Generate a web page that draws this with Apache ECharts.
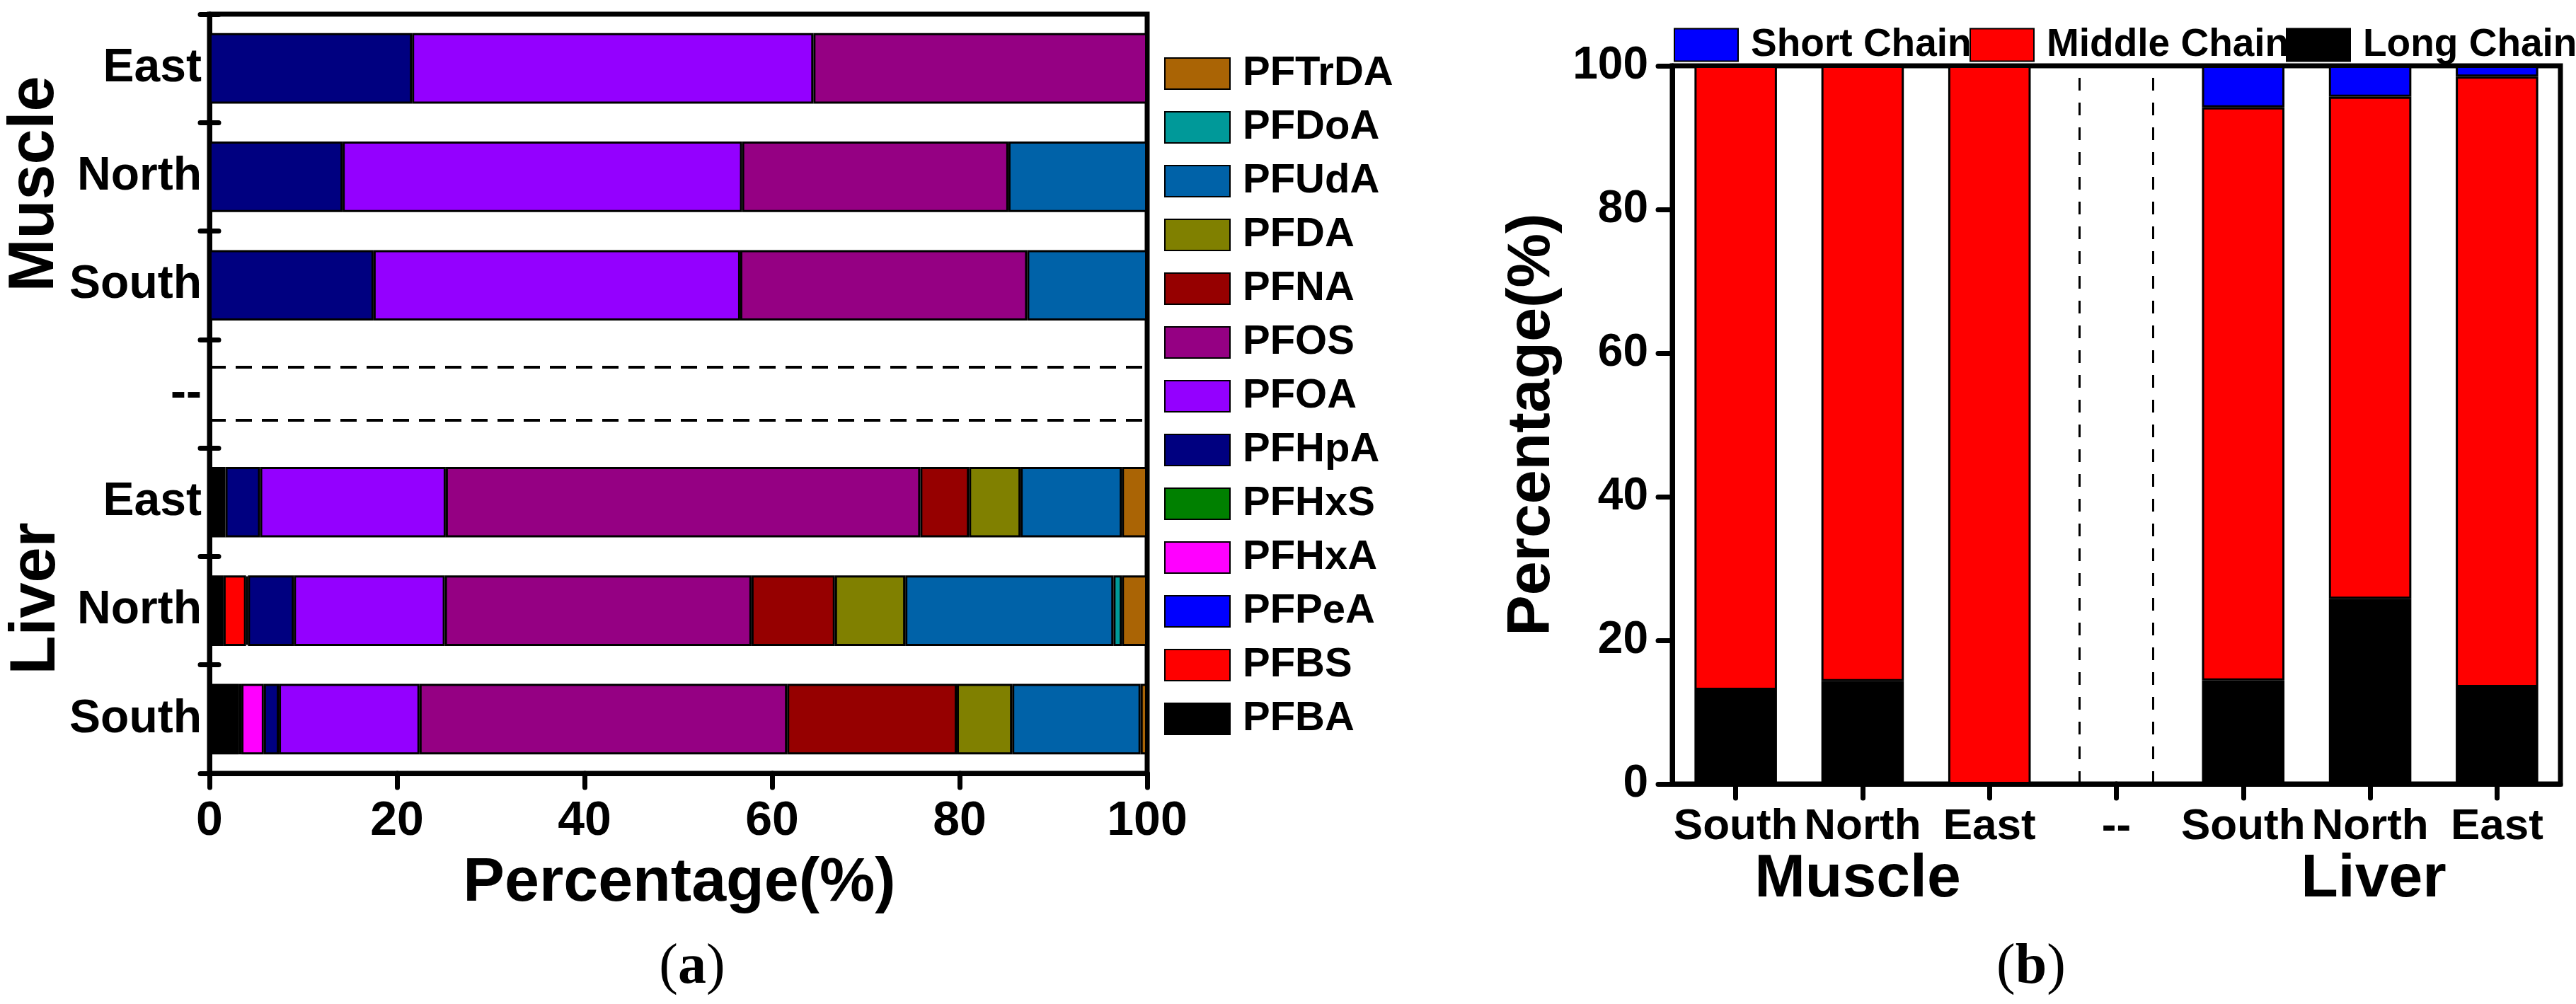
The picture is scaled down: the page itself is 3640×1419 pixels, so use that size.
<!DOCTYPE html>
<html>
<head>
<meta charset="utf-8">
<script src="https://cdn.jsdelivr.net/npm/echarts@6/dist/echarts.min.js"></script>
<style>
  html, body { margin: 0; padding: 0; background: #fff; }
  #chart { width: 3640px; height: 1419px; }
</style>
</head>
<body>
<div id="chart"></div>
<script>
// panel (a): share of each compound per site, bottom row first
const sitesA = ["Liver South", "Liver North", "Liver East", "--", "Muscle South", "Muscle North", "Muscle East"];
const PFBA   = [3.1, 1.5, 1.7, 0, 0, 0, 0];
const PFBS   = [0, 2.4, 0, 0, 0, 0, 0];
const PFPeA  = [0.3, 0, 0, 0, 0, 0, 0];
const PFHxA  = [2.4, 0.2, 0, 0, 0, 0, 0];
const PFHxS  = [0, 0, 0, 0, 0, 0, 0];
const PFHpA  = [1.6, 4.9, 3.7, 0, 17.5, 14.2, 21.6];
const PFOA   = [15.0, 16.1, 19.8, 0, 39.1, 42.6, 42.8];
const PFOS   = [39.2, 32.7, 50.6, 0, 30.6, 28.4, 35.6];
const PFNA   = [18.1, 8.9, 5.2, 0, 0, 0, 0];
const PFDA   = [5.9, 7.5, 5.5, 0, 0, 0, 0];
const PFUdA  = [13.7, 22.2, 10.8, 0, 12.8, 14.8, 0];
const PFDoA  = [0, 0.9, 0, 0, 0, 0, 0];
const PFTrDA = [0.7, 2.7, 2.7, 0, 0, 0, 0];
const gapSpan = 100;

// panel (b): chain length groups
const sitesB = ["Muscle South", "Muscle North", "Muscle East", "--", "Liver South", "Liver North", "Liver East"];
const longChain   = [13.1, 14.3, 0, 0, 14.4, 25.8, 13.5];
const middleChain = [86.9, 85.7, 100, 0, 79.8, 69.9, 85.0];
const shortChain  = [0, 0, 0, 0, 5.8, 4.3, 1.5];

const compounds = [
  ["PFBA", PFBA], ["PFBS", PFBS], ["PFPeA", PFPeA], ["PFHxA", PFHxA], ["PFHxS", PFHxS],
  ["PFHpA", PFHpA], ["PFOA", PFOA], ["PFOS", PFOS], ["PFNA", PFNA], ["PFDA", PFDA],
  ["PFUdA", PFUdA], ["PFDoA", PFDoA], ["PFTrDA", PFTrDA]
];
const colorsA = {
  PFBA: "#000000", PFBS: "#ff0000", PFPeA: "#0000ff", PFHxA: "#ff00ff", PFHxS: "#008000",
  PFHpA: "#000080", PFOA: "#9400ff", PFOS: "#950083", PFNA: "#960000", PFDA: "#808000",
  PFUdA: "#0062a8", PFDoA: "#009999", PFTrDA: "#aa6405"
};
const chains = [["Long Chain", longChain], ["Middle Chain", middleChain], ["Short Chain", shortChain]];
const colorsB = { "Long Chain": "#000000", "Middle Chain": "#ff0000", "Short Chain": "#0000ff" };

const FONT = "Liberation Sans";
const SERIF = "Liberation Serif";
const blank = (v) => (v ? v : "-");
const siteName = (v) => (v === "--" ? "--" : v.split(" ")[1]);

const chart = echarts.init(document.getElementById("chart"), null, { renderer: "canvas" });

const barsA = compounds.map(([name, values]) => ({
  name,
  type: "bar",
  stack: "a",
  xAxisIndex: 0,
  yAxisIndex: 0,
  barWidth: "65%",
  data: values.map(blank),
  itemStyle: { color: colorsA[name], borderColor: "#000", borderWidth: 3 },
  emphasis: { disabled: true }
}));

const barsB = chains.map(([name, values]) => ({
  name,
  type: "bar",
  stack: "b",
  xAxisIndex: 1,
  yAxisIndex: 2,
  barWidth: "65%",
  data: values.map(blank),
  itemStyle: { color: colorsB[name], borderColor: "#000", borderWidth: 3 },
  emphasis: { disabled: true }
}));

const dashStyle = (dash, width) => ({ stroke: "#000", lineWidth: width, lineDash: dash, fill: null });

// dashed frame of the empty "--" row
const gapA = {
  type: "custom",
  xAxisIndex: 0,
  yAxisIndex: 0,
  encode: { x: 0, y: 1 },
  data: [[gapSpan, sitesA.indexOf("--")]],
  renderItem: (params, api) => {
    const cat = api.value(1);
    const p0 = api.coord([0, cat]);
    const p1 = api.coord([api.value(0), cat]);
    const half = api.size([0, 1])[1] * 0.245;
    const style = dashStyle([23, 14], 4);
    return {
      type: "group",
      children: [
        { type: "line", shape: { x1: p0[0], y1: p0[1] - half, x2: p1[0], y2: p1[1] - half }, style },
        { type: "line", shape: { x1: p0[0], y1: p0[1] + half, x2: p1[0], y2: p1[1] + half }, style }
      ]
    };
  }
};

const gapB = {
  type: "custom",
  xAxisIndex: 1,
  yAxisIndex: 2,
  encode: { x: 0, y: 1 },
  data: [[sitesB.indexOf("--"), gapSpan]],
  renderItem: (params, api) => {
    const cat = api.value(0);
    const p0 = api.coord([cat, 0]);
    const p1 = api.coord([cat, api.value(1)]);
    const half = api.size([1, 0])[0] * 0.29;
    const style = dashStyle([18, 17], 3);
    return {
      type: "group",
      children: [
        { type: "line", shape: { x1: p0[0] - half, y1: p0[1], x2: p1[0] - half, y2: p1[1] }, style },
        { type: "line", shape: { x1: p0[0] + half, y1: p0[1], x2: p1[0] + half, y2: p1[1] }, style }
      ]
    };
  }
};

const bold = (size) => ({ fontFamily: FONT, fontWeight: "bold", fontSize: size, color: "#000" });
const axisLine = { show: true, lineStyle: { color: "#000", width: 7 } };
const tickLine = { color: "#000", width: 7, cap: "round" };

const chainLegend = (name, left) => ({
  data: [name],
  left,
  top: 28,
  icon: "rect",
  itemWidth: 90,
  itemHeight: 46,
  itemGap: 0,
  selectedMode: false,
  textStyle: Object.assign(bold(55), { lineHeight: 55, padding: [0, 0, 6, 13] })
});

const label = (text, x, y, size, rotate) => ({
  type: "text",
  x,
  y,
  rotation: rotate ? Math.PI / 2 : 0,
  style: {
    text, fontFamily: FONT, fontWeight: "bold", fontSize: size,
    align: "center", verticalAlign: "middle", fill: "#000"
  }
});

const panelTag = (letter, x, y) => ({
  type: "text",
  x,
  y,
  style: {
    text: "(" + "{b|" + letter + "})",
    fontFamily: SERIF, fontWeight: "normal", fontSize: 80,
    align: "center", verticalAlign: "middle", fill: "#000",
    rich: { b: { fontFamily: SERIF, fontWeight: "bold", fontSize: 80, fill: "#000" } }
  }
});

const option = {
  animation: false,
  backgroundColor: "#fff",
  grid: [
    { left: 296, top: 20, width: 1325, height: 1073, show: true, borderColor: "#000", borderWidth: 7, containLabel: false },
    { left: 2363, top: 93, width: 1255, height: 1015, show: true, borderColor: "#000", borderWidth: 7, containLabel: false }
  ],
  xAxis: [
    {
      gridIndex: 0, type: "value", min: 0, max: 100, interval: 20,
      axisLine, splitLine: { show: false },
      axisTick: { show: true, length: 20, lineStyle: tickLine },
      axisLabel: Object.assign(bold(68), { margin: 34 })
    },
    {
      gridIndex: 1, type: "category", data: sitesB,
      axisLine,
      axisTick: { show: true, alignWithLabel: true, length: 20, lineStyle: tickLine },
      axisLabel: Object.assign(bold(62), { margin: 30, interval: 0, formatter: siteName })
    }
  ],
  yAxis: [
    {
      gridIndex: 0, type: "category", data: sitesA, position: "left",
      axisLine,
      axisTick: { show: true, length: 13, lineStyle: tickLine },
      axisLabel: Object.assign(bold(66), { margin: 11, interval: 0, formatter: siteName })
    },
    {
      gridIndex: 0, type: "category", data: sitesA, position: "left",
      axisLine: { show: false },
      axisTick: { show: true, inside: true, length: 13, lineStyle: tickLine },
      axisLabel: { show: false }
    },
    {
      gridIndex: 1, type: "value", min: 0, max: 100, interval: 20,
      axisLine, splitLine: { show: false },
      axisTick: { show: true, length: 20, lineStyle: tickLine },
      axisLabel: Object.assign(bold(64), { margin: 34 })
    }
  ],
  legend: [
    {
      data: ["PFTrDA", "PFDoA", "PFUdA", "PFDA", "PFNA", "PFOS", "PFOA", "PFHpA", "PFHxS", "PFHxA", "PFPeA", "PFBS", "PFBA"],
      orient: "vertical",
      left: 1640,
      top: 62,
      icon: "rect",
      itemWidth: 92,
      itemHeight: 44,
      itemGap: 2,
      selectedMode: false,
      textStyle: Object.assign(bold(58), { lineHeight: 58, padding: [0, 0, 16, 13] })
    },
    chainLegend("Short Chain", 2360),
    chainLegend("Middle Chain", 2778),
    chainLegend("Long Chain", 3225)
  ],
  series: barsA.concat(barsB, [gapA, gapB]),
  graphic: [
    label("Muscle", 50, 260, 90, true),
    label("Liver", 52, 846, 90, true),
    label("Percentage(%)", 960, 1249, 88, false),
    label("Percentage(%)", 2165, 600, 86, true),
    label("Muscle", 2625, 1243, 86, false),
    label("Liver", 3354, 1243, 86, false),
    panelTag("a", 978, 1368),
    panelTag("b", 2870, 1368)
  ]
};

chart.setOption(option);
</script>
</body>
</html>
